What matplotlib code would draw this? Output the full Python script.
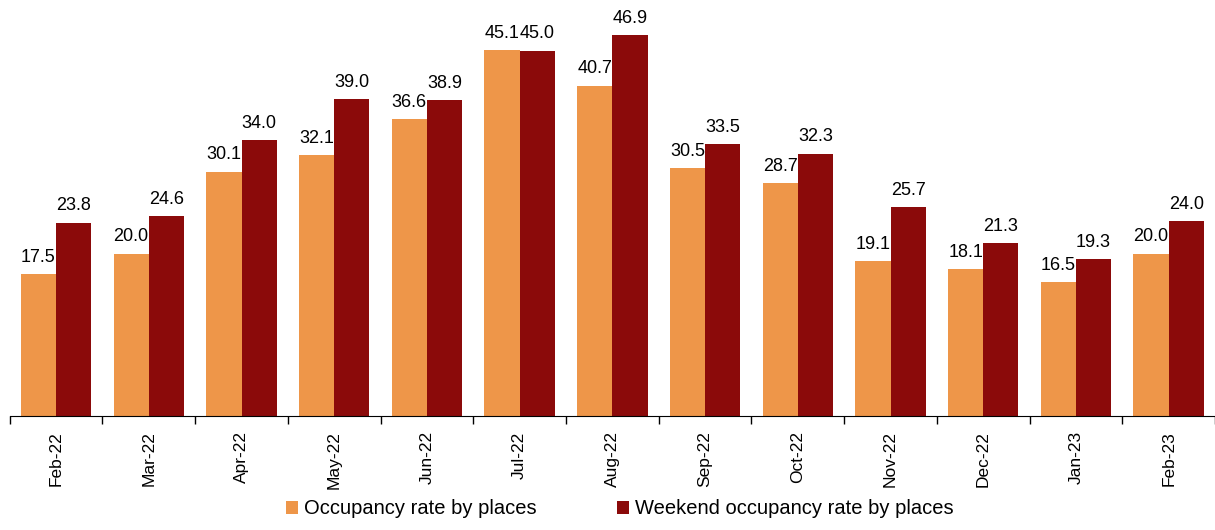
import numpy as np
import matplotlib.pyplot as plt

plt.rcParams['font.family'] = ['Liberation Sans', 'DejaVu Sans']

# Data
months = ["Feb-22", "Mar-22", "Apr-22", "May-22", "Jun-22", "Jul-22", "Aug-22",
          "Sep-22", "Oct-22", "Nov-22", "Dec-22", "Jan-23", "Feb-23"]
occupancy = [17.5, 20.0, 30.1, 32.1, 36.6, 45.1, 40.7, 30.5, 28.7, 19.1, 18.1, 16.5, 20.0]
weekend = [23.8, 24.6, 34.0, 39.0, 38.9, 45.0, 46.9, 33.5, 32.3, 25.7, 21.3, 19.3, 24.0]

orange = "#EE9649"
darkred = "#8B0A0A"

fig = plt.figure(figsize=(12.15, 5.3), dpi=100)
ax = fig.add_axes([0.008, 0.215, 0.992, 0.766])

x = np.arange(len(months))
w = 0.38
b1 = ax.bar(x - w / 2, occupancy, w, color=orange, label="Occupancy rate by places")
b2 = ax.bar(x + w / 2, weekend, w, color=darkred, label="Weekend occupancy rate by places")

for bars in (b1, b2):
    for rect in bars:
        h = rect.get_height()
        ax.annotate(f"{h:.1f}", (rect.get_x() + rect.get_width() / 2, h),
                    xytext=(0, 6), textcoords="offset points",
                    ha="center", va="bottom", fontsize=13)

ax.set_xlim(-0.5, len(months) - 0.5)
ax.set_ylim(0, 50)

# axes look
for s in ("left", "top", "right"):
    ax.spines[s].set_visible(False)
ax.spines["bottom"].set_color("#000000")
ax.set_yticks([])
ax.set_xticks(x)
ax.set_xticklabels(months, rotation=90, fontsize=12.5)
ax.tick_params(axis="x", which="major", length=0, pad=11)
ax.set_xticks(np.arange(-0.5, len(months)), minor=True)
ax.tick_params(axis="x", which="minor", length=6, width=1, direction="out")

fig.legend(handles=[b1, b2], loc="lower center", bbox_to_anchor=(0.51, -0.012),
           ncol=2, frameon=False, fontsize=14.5, handlelength=0.6, handleheight=0.6,
           handletextpad=0.3, columnspacing=4.0)

fig.savefig("out.png", dpi=100)
